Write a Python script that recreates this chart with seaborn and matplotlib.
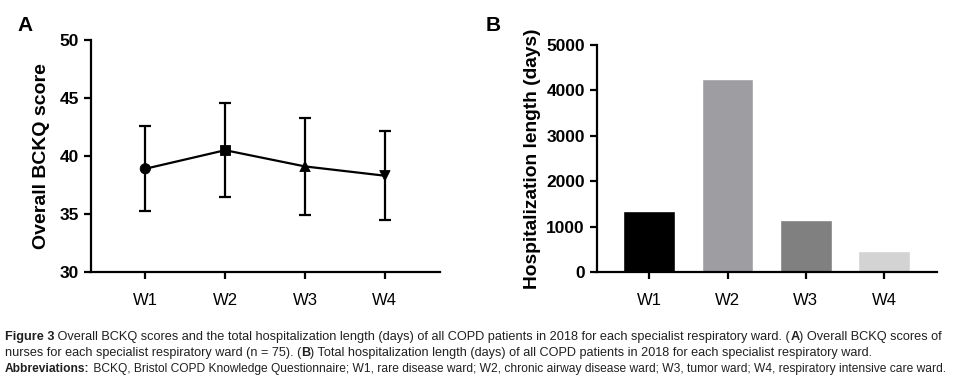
# BCKQ scores and hospitalization length per ward

import numpy as np
import pandas as pd
import seaborn as sns
import matplotlib.pyplot as plt

wards = ['W1', 'W2', 'W3', 'W4']
bckq_mean = [38.9, 40.5, 39.1, 38.3]
bckq_sd = [3.65, 4.05, 4.2, 3.85]
ward_markers = ['o', 's', '^', 'v']
hosp_days = [1340, 4250, 1150, 465]
bar_colors = ['#000000', '#9e9ea2', '#808080', '#d3d3d3']

caption = [
    [('Figure 3', 'bold'), (' Overall BCKQ scores and the total hospitalization length (days) of all COPD patients in 2018 for each specialist respiratory ward. (', 'normal'),
     ('A', 'bold'), (') Overall BCKQ scores of', 'normal')],
    [('nurses for each specialist respiratory ward (n = 75). (', 'normal'), ('B', 'bold'),
     (') Total hospitalization length (days) of all COPD patients in 2018 for each specialist respiratory ward.', 'normal')],
    [('Abbreviations:', 'bold'), (' BCKQ, Bristol COPD Knowledge Questionnaire; W1, rare disease ward; W2, chronic airway disease ward; W3, tumor ward; W4, respiratory intensive care ward.', 'normal')],
]
caption_end = [946, 874, 945]

sns.set_style('ticks')
plt.rcParams['font.family'] = ['Liberation Sans', 'DejaVu Sans']
plt.rcParams['text.color'] = 'black'
plt.rcParams['axes.labelcolor'] = 'black'

df_a = pd.DataFrame({'ward': wards, 'pos': range(4), 'mean': bckq_mean, 'sd': bckq_sd})
df_b = pd.DataFrame({'ward': wards, 'days': hosp_days})

fig = plt.figure(figsize=(9.62, 3.87), dpi=100)
ax1 = fig.add_axes([0.0946, 0.2972, 0.3628, 0.5994])
ax2 = fig.add_axes([0.6203, 0.2972, 0.3537, 0.5865])

# panel A
ax1.errorbar(df_a['pos'], df_a['mean'], yerr=df_a['sd'], fmt='none', ecolor='black',
             elinewidth=1.6, capsize=4, capthick=1.6, zorder=2)
sns.lineplot(ax=ax1, x='pos', y='mean', data=df_a, color='black', linewidth=1.6, zorder=3)
sns.scatterplot(ax=ax1, x='pos', y='mean', data=df_a, style='ward', markers=ward_markers,
                color='black', s=55, edgecolor='black', legend=False, zorder=4)
ax1.set_xlim(-0.68, 3.69)
ax1.set_ylim(30, 50)
ax1.set_yticks([30, 35, 40, 45, 50])
ax1.set_xticks(range(4))
ax1.set_xticklabels(wards)
ax1.set_xlabel('')
ax1.set_ylabel('Overall BCKQ score', fontsize=14, fontweight='bold', labelpad=7)

# panel B
sns.barplot(ax=ax2, x='ward', y='days', data=df_b, hue='ward', palette=bar_colors,
            width=0.66, legend=False, saturation=1)
ax2.set_xlim(-0.67, 3.675)
ax2.set_ylim(0, 5000)
ax2.set_yticks([0, 1000, 2000, 3000, 4000, 5000])
ax2.set_xlabel('')
ax2.set_ylabel('Hospitalization length (days)', fontsize=13.8, fontweight='bold', labelpad=4)

for ax in (ax1, ax2):
    sns.despine(ax=ax)
    for s in ('left', 'bottom'):
        ax.spines[s].set_linewidth(1.6)
        ax.spines[s].set_color('black')
    ax.tick_params(width=1.6, length=5, color='black', labelsize=12.5, labelcolor='black')
    ax.tick_params(axis='x', pad=10, labelsize=12)
    for lab in ax.get_yticklabels():
        lab.set_fontweight('bold')

fig.text(0.018, 0.935, 'A', fontsize=15, fontweight='bold', va='center')
fig.text(0.505, 0.935, 'B', fontsize=15, fontweight='bold', va='center')

# caption lines, each sized so it ends where the reference line ends
renderer = fig.canvas.get_renderer()
line_y = [337, 353, 369]


def put_line(parts, y, size):
    x = 5
    texts = []
    for txt, w in parts:
        t = fig.text(x / 962, 1 - y / 387, txt, fontsize=size, fontweight=w, va='center',
                     color='#231f20')
        x += t.get_window_extent(renderer=renderer).width
        texts.append(t)
    return texts, x


for parts, y, end in zip(caption, line_y, caption_end):
    texts, x_end = put_line(parts, y, 9.0)
    for t in texts:
        t.remove()
    put_line(parts, y, 9.0 * (end - 5) / (x_end - 5))

fig.savefig('out.png', dpi=100)
